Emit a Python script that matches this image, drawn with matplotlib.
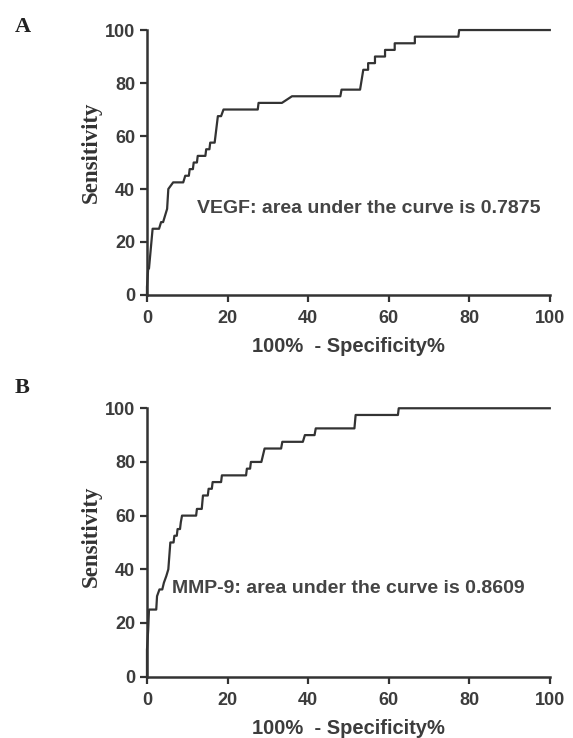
import matplotlib
matplotlib.use('Agg')
import matplotlib.pyplot as plt

# ROC curve vertices (100% - specificity, sensitivity)
vegf_fpr = [0, 0, 0.3, 0.5, 1.4, 3, 3.5, 4, 4.5, 5, 5.3, 6.5, 9, 9.5, 10.4,
            10.6, 11.4, 11.6, 12.4, 12.6, 14.5, 14.7, 15.5, 15.7, 16.8, 17,
            17.6, 18.4, 19, 27.5, 27.7, 33.5, 36, 48, 48.3, 52.9, 53.7, 54.9,
            54.9, 56.6, 56.6, 59.1, 59.1, 61.5, 61.5, 66.5, 66.5, 77.3, 77.5,
            100]
vegf_tpr = [0, 3, 10, 10, 25, 25, 27.5, 27.5, 30, 32.5, 40, 42.5, 42.5, 45, 45,
            47.5, 47.5, 50, 50, 52.5, 52.5, 55, 55, 57.5, 57.5, 60, 67.5, 67.5,
            70, 70, 72.5, 72.5, 75, 75, 77.5, 77.5, 85, 85, 87.5, 87.5, 90, 90,
            92.5, 92.5, 95, 95, 97.5, 97.5, 100, 100]

mmp9_fpr = [0, 0, 0.3, 0.5, 2.3, 2.5, 3.1, 3.8, 4.2, 4.8, 5.3, 5.8, 6.6, 6.8,
            7.4, 7.6, 8.2, 8.4, 8.7, 12.2, 12.4, 13.6, 13.9, 15.1, 15.3, 16.1,
            16.3, 18.4, 18.6, 24.6, 24.8, 25.6, 25.8, 28.4, 29.2, 33.3, 33.6,
            38.7, 39.2, 41.6, 41.9, 51.5, 51.8, 62.3, 62.5, 100]
mmp9_tpr = [0, 10, 17.5, 25, 25, 30, 32.5, 32.5, 35, 37.5, 40, 50, 50, 52.5,
            52.5, 55, 55, 57.5, 60, 60, 62.5, 62.5, 67.5, 67.5, 70, 70, 72.5,
            72.5, 75, 75, 77.5, 77.5, 80, 80, 85, 85, 87.5, 87.5, 90, 90, 92.5,
            92.5, 97.5, 97.5, 100, 100]

ticks = [0, 20, 40, 60, 80, 100]
panels = [
    ('A', vegf_fpr, vegf_tpr, 'VEGF: area under the curve is 0.7875', (12.5, 32.5), 0.54),
    ('B', mmp9_fpr, mmp9_tpr, 'MMP-9: area under the curve is 0.8609', (6.3, 33.0), 0.525),
]

dark = '#333333'
plt.rcParams['font.family'] = ['Liberation Sans', 'DejaVu Sans']

fig = plt.figure(figsize=(5.73, 7.38), dpi=100)
rects = [[0.2565, 0.6003, 0.703, 0.359], [0.2565, 0.0831, 0.703, 0.3637]]
label_y = [0.977, 0.488]

for (tag, fpr, tpr, txt, txt_pos, yl_pos), rect, ly in zip(panels, rects, label_y):
    ax = fig.add_axes(rect)
    ax.plot(fpr, tpr, color=dark, lw=1.6, clip_on=False, zorder=3)
    ax.set_xlim(0, 100)
    ax.set_ylim(0, 100)
    ax.set_xticks(ticks)
    ax.set_yticks(ticks)
    for s in ['top', 'right']:
        ax.spines[s].set_visible(False)
    for s in ['left', 'bottom']:
        ax.spines[s].set_linewidth(1.8)
        ax.spines[s].set_color(dark)
    ax.tick_params(direction='out', length=5, width=1.6, color=dark,
                   labelsize=13, labelcolor='#3c3c3c', pad=3.5)
    ax.tick_params(axis='x', pad=6)
    for lab in ax.get_xticklabels() + ax.get_yticklabels():
        lab.set_fontweight('bold')
    ax.set_xlabel('100%  - Specificity%', fontsize=14.5, fontweight='bold',
                  color='#3c3c3c', labelpad=7)
    ax.set_ylabel('Sensitivity', fontsize=16.5, fontweight='bold', color=dark,
                  family='Liberation Serif')
    ax.yaxis.set_label_coords(-0.113, yl_pos)
    ax.text(txt_pos[0], txt_pos[1], txt, fontsize=14, fontweight='bold',
            color='#444444', va='center', ha='left')
    fig.text(0.025, ly, tag, fontsize=16, fontweight='bold',
             family='Liberation Serif', color='#222222', va='top')

fig.savefig('out.png', dpi=100)
